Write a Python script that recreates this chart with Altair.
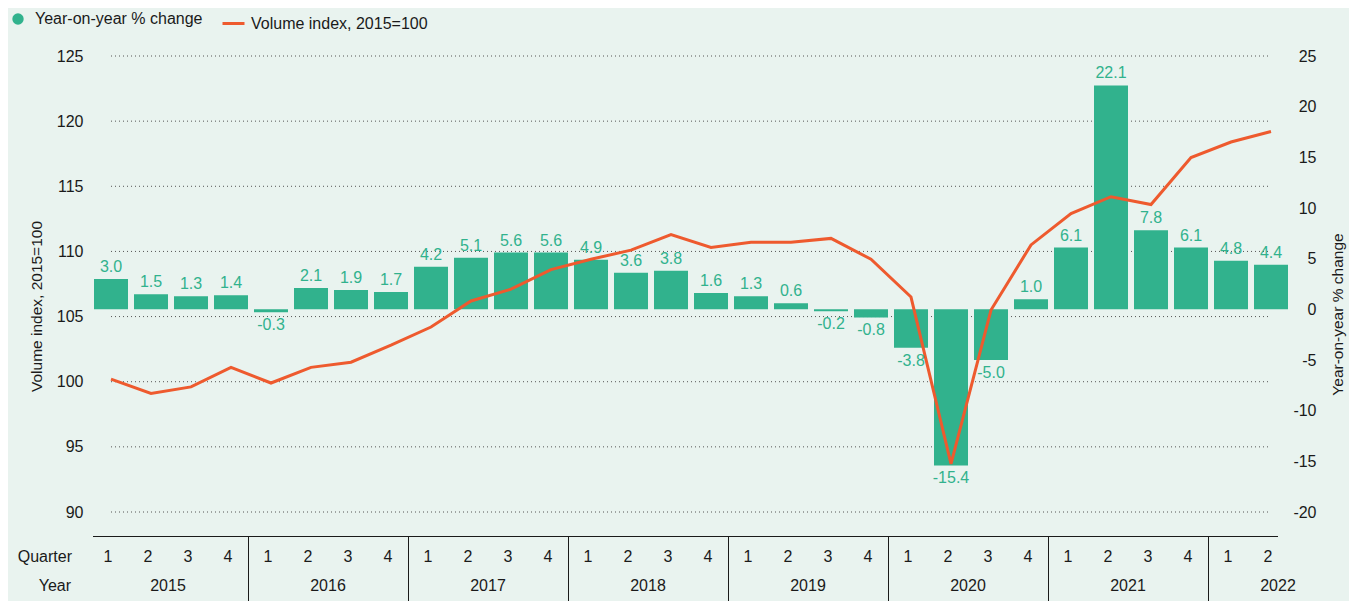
import altair as alt
import pandas as pd

# ---- data ----
years = [2015] * 4 + [2016] * 4 + [2017] * 4 + [2018] * 4 + [2019] * 4 + [2020] * 4 + [2021] * 4 + [2022] * 2
quarters = [1, 2, 3, 4] * 7 + [1, 2]
yoy = [3.0, 1.5, 1.3, 1.4, -0.3, 2.1, 1.9, 1.7, 4.2, 5.1, 5.6, 5.6, 4.9, 3.6, 3.8, 1.6,
       1.3, 0.6, -0.2, -0.8, -3.8, -15.4, -5.0, 1.0, 6.1, 22.1, 7.8, 6.1, 4.8, 4.4]
volume = [100.2, 99.1, 99.6, 101.1, 99.9, 101.1, 101.5, 102.8, 104.2, 106.2, 107.1, 108.6,
          109.4, 110.1, 111.3, 110.3, 110.7, 110.7, 111.0, 109.4, 106.5, 93.7, 105.5, 110.5,
          112.9, 114.2, 113.6, 117.2, 118.4, 119.2]
left_ticks = [90, 95, 100, 105, 110, 115, 120, 125]
right_ticks = [-20, -15, -10, -5, 0, 5, 10, 15, 20, 25]
year_labels = ["2015", "2016", "2017", "2018", "2019", "2020", "2021", "2022"]
row_headers = ["Quarter", "Year"]
bar_name = "Year-on-year % change"
line_name = "Volume index, 2015=100"

GREEN = "#31B28D"
ORANGE = "#EE5A2E"
INK = "#1a1a1a"
BG = "#E9F3EF"
FONT = "Liberation Sans"

keys = [f"{y}-{q}" for y, q in zip(years, quarters)]
df = pd.DataFrame({
    "key": keys,
    "year": years,
    "quarter": [str(q) for q in quarters],
    "yoy": yoy,
    "volume": volume,
    "label": [f"{v:.1f}" for v in yoy],
    "s1": bar_name,
    "s2": line_name,
})

W, H = 1200, 456

xscale = alt.Scale(domain=keys, paddingInner=0.15, paddingOuter=0.075)
left_scale = alt.Scale(domain=[90, 125], nice=False, zero=False)
right_scale = alt.Scale(domain=[-20, 25], nice=False, zero=False)

left_axis = alt.Axis(
    orient="left", values=left_ticks, grid=False, ticks=False, domain=False,
    labelPadding=8, labelFontSize=16, labelColor=INK, labelFont=FONT,
    title=line_name, titleFontSize=15.5, titleFont=FONT, titleColor=INK, titleFontWeight="normal",
    titleAngle=270, titleX=-55, titleY=250, titleAlign="center", titleBaseline="middle",
)
right_axis = alt.Axis(
    orient="right", values=right_ticks, grid=False, ticks=False, domain=False,
    labelPadding=25, labelAlign="right", labelFontSize=16, labelColor=INK, labelFont=FONT,
    labelExpr="'' + datum.value",
    title=bar_name, titleFontSize=15.5, titleFont=FONT, titleColor=INK, titleFontWeight="normal",
    titleAngle=270, titleX=46, titleY=258, titleAlign="center", titleBaseline="middle",
)

X = alt.X("key:N", scale=xscale, axis=None)

# gridlines of the left (volume) scale
grid_df = pd.DataFrame({"v": left_ticks, "start": keys[0], "end": keys[-1]})
grid = alt.Chart(grid_df).mark_rule(color="#555555", strokeWidth=1, strokeDash=[1, 3]).encode(
    x=alt.X("start:N", scale=xscale, axis=None),
    x2="end",
    y=alt.Y("v:Q", scale=left_scale, axis=None),
)

bars = alt.Chart(df).mark_bar().encode(
    x=X,
    y=alt.Y("yoy:Q", scale=right_scale, axis=right_axis),
    fill=alt.Fill(
        "s1:N", scale=alt.Scale(domain=[bar_name], range=[GREEN]),
        legend=alt.Legend(
            orient="none", legendX=-81, legendY=-45, title=None, symbolType="circle",
            symbolSize=130, symbolStrokeWidth=0, labelFontSize=16, labelFont=FONT,
            labelColor=INK, labelOffset=9, padding=0, labelLimit=400,
        ),
    ),
)

line = alt.Chart(df).mark_line(strokeWidth=3).encode(
    x=X,
    y=alt.Y("volume:Q", scale=left_scale, axis=left_axis),
    stroke=alt.Stroke(
        "s2:N", scale=alt.Scale(domain=[line_name], range=[ORANGE]),
        legend=alt.Legend(
            orient="none", legendX=130, legendY=-45, title=None, symbolType="stroke",
            symbolSize=484, symbolStrokeWidth=3, labelFontSize=16, labelFont=FONT,
            labelColor=INK, labelOffset=5, padding=0, labelLimit=400,
        ),
    ),
)

pos_labels = alt.Chart(df).transform_filter("datum.yoy >= 0").mark_text(
    baseline="bottom", dy=-4, fontSize=16, font=FONT, color=GREEN
).encode(x=X, y=alt.Y("yoy:Q", scale=right_scale, axis=None), text="label:N")
neg_labels = alt.Chart(df).transform_filter("datum.yoy < 0").mark_text(
    baseline="top", dy=5, fontSize=16, font=FONT, color=GREEN
).encode(x=X, y=alt.Y("yoy:Q", scale=right_scale, axis=None), text="label:N")

# bottom table: axis line, quarter labels, year labels, separators, row headers
base_df = pd.DataFrame({"start": [keys[0]], "end": [keys[-1]]})
base_line = alt.Chart(base_df).mark_rule(color=INK, strokeWidth=1, xOffset=-18, x2Offset=7).encode(
    x=alt.X("start:N", scale=xscale, axis=None), x2="end", y=alt.value(H + 24.5)
)

q_labels = alt.Chart(df).mark_text(
    baseline="middle", dx=-3, fontSize=16, font=FONT, color=INK
).encode(x=X, y=alt.value(H + 45), text="quarter:N")

ydf = pd.DataFrame({"year": year_labels, "anchor": [f"{y}-2" for y in year_labels]})
year_full = alt.Chart(ydf).transform_filter("datum.year != '2022'").mark_text(
    baseline="middle", dx=17, fontSize=16, font=FONT, color=INK
).encode(x=alt.X("anchor:N", scale=xscale, axis=None), y=alt.value(H + 74), text="year:N")
year_part = alt.Chart(ydf).transform_filter("datum.year == '2022'").mark_text(
    baseline="middle", dx=7, fontSize=16, font=FONT, color=INK
).encode(x=alt.X("anchor:N", scale=xscale, axis=None), y=alt.value(H + 74), text="year:N")

sdf = pd.DataFrame({"k": [f"{y}-1" for y in year_labels[1:]]})
seps = alt.Chart(sdf).mark_rule(color=INK, strokeWidth=1, xOffset=-22.5).encode(
    x=alt.X("k:N", scale=xscale, axis=None), y=alt.value(H + 24), y2=alt.value(H + 89)
)

q_head = alt.Chart(pd.DataFrame({"t": [row_headers[0]]})).mark_text(
    align="right", baseline="middle", fontSize=16, font=FONT, color=INK
).encode(x=alt.value(-19), y=alt.value(H + 45), text="t:N")
y_head = alt.Chart(pd.DataFrame({"t": [row_headers[1]]})).mark_text(
    align="right", baseline="middle", fontSize=16, font=FONT, color=INK
).encode(x=alt.value(-20), y=alt.value(H + 74), text="t:N")

chart = alt.layer(
    grid, bars, line, pos_labels, neg_labels, base_line, q_labels,
    year_full, year_part, seps, q_head, y_head
).resolve_scale(y="independent").properties(
    width=W, height=H,
    autosize=alt.AutoSizeParams(type="none"),
    padding={"left": 83, "top": 48, "right": 58, "bottom": 89},
    background=BG,
).configure_view(stroke=None)

chart.save("out.html", embed_options={"renderer": "svg", "actions": False})
